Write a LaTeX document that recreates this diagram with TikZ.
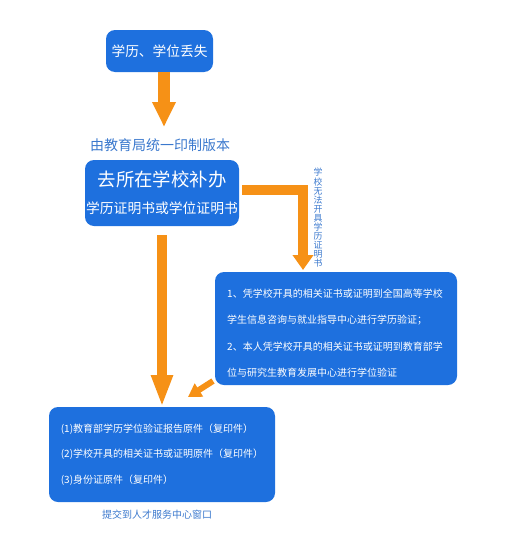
\documentclass[tikz,border=0pt]{standalone}
\usepackage{fontspec}
\setmainfont{Noto Sans CJK SC}
\usetikzlibrary{arrows.meta}
\definecolor{boxblue}{RGB}{30,112,222}
\definecolor{txtblue}{RGB}{58,120,205}
\definecolor{arrowor}{RGB}{246,145,22}

\begin{document}
\begin{tikzpicture}[x=1pt,y=-1pt,
    bluebox/.style={fill=boxblue, rounded corners=9pt, text=white, inner sep=0pt},
    fatarrow/.style={draw=arrowor, line join=miter}]
    \useasboundingbox (0,0) rectangle (507,549);

    \node[bluebox, minimum width=107, minimum height=42, font=\fontsize{13.7}{16}\selectfont] (loss) at (159.5,51) {学历、学位丢失};
    \node[text=txtblue, font=\fontsize{14}{16}\selectfont, inner sep=0] (note) at (160,145) {由教育局统一印制版本};
    \node[bluebox, minimum width=154, minimum height=66, align=center, font=\fontsize{13.8}{26.5}\selectfont] (redo) at (162,193)
        {{\fontsize{18.4}{26.5}\selectfont 去所在学校补办}\\学历证明书或学位证明书};

    \node[text=txtblue, font=\fontsize{8.9}{9.1}\selectfont, align=center, inner sep=0] (why) at (318,218)
        {学\\校\\无\\法\\开\\具\\学\\历\\证\\明\\书};

    \node[bluebox, minimum width=242, minimum height=113] (verify) at (336,328.5) {};
    \node[text=white, align=left, inner sep=0, font=\fontsize{10}{26.5}\selectfont] (verifytext) at (335,333)
        {1、凭学校开具的相关证书或证明到全国高等学校\\
         学生信息咨询与就业指导中心进行学历验证；\\
         2、本人凭学校开具的相关证书或证明到教育部学\\
         位与研究生教育发展中心进行学位验证};

    \node[bluebox, minimum width=226, minimum height=95, align=left, font=\fontsize{10}{25.5}\selectfont] (docs) at (162,454.5)
        {(1)教育部学历学位验证报告原件（复印件）\\
         (2)学校开具的相关证书或证明原件（复印件）\\
         (3)身份证原件（复印件）};
    \node[text=txtblue, font=\fontsize{10}{12}\selectfont, inner sep=0] (submit) at (157,515) {提交到人才服务中心窗口};

    % arrows
    \coordinate (t1) at (164,127);
    \coordinate (t2) at (162,407);
    \coordinate (t3) at (303,270);
    \coordinate (d1) at (213,381);
    \coordinate (d2) at (188,397);
    \draw[fatarrow, line width=12pt, -{Triangle[length=25pt,width=22pt]}] (loss.south -| t1) -- (t1);
    \draw[fatarrow, line width=10pt, -{Triangle[length=32pt,width=20pt]}] (redo.south -| t2) ++(0,9) -- (t2);
    \draw[fatarrow, line width=10pt, -{Triangle[length=15pt,width=20pt]}] ([shift={(3pt,3pt)}]redo.east) -| (t3);
    \draw[fatarrow, line width=6pt, -{Triangle[length=13pt,width=15pt]}] (d1) -- (d2);
\end{tikzpicture}
\end{document}
